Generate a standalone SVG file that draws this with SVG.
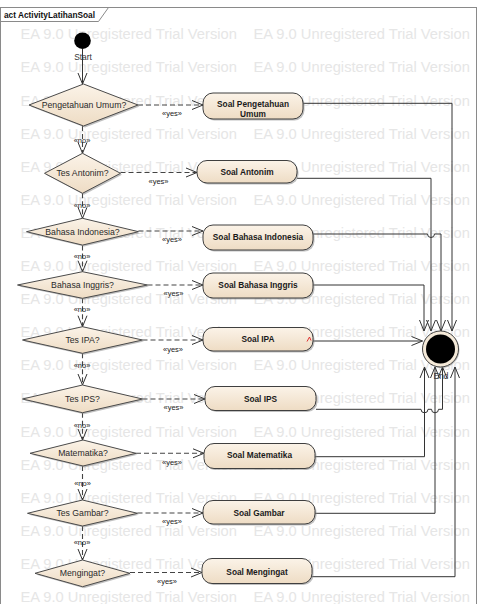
<svg xmlns="http://www.w3.org/2000/svg" width="479" height="604" viewBox="0 0 479 604">
<style>
text{font-family:"Liberation Sans",Arial,sans-serif}
.wm{font-size:14.7px;fill:#e6e6e6}
.frame{fill:#fff;stroke:#8a8a8a;stroke-width:1}
.tab{fill:none;stroke:#8a8a8a;stroke-width:1}
.title{font-size:8.3px;font-weight:bold;fill:#111}
.dec{fill:url(#g);stroke:#4a4a4a;stroke-width:1}
.act{fill:url(#g);stroke:#3f3f3f;stroke-width:1}
.sh{fill:#8c8c8c;opacity:.55}
.dt{font-size:8.7px;fill:#2a2a2a;text-anchor:middle}
.at{font-size:8.3px;font-weight:bold;fill:#1a1a1a;text-anchor:middle}
.lb{font-size:7.5px;fill:#222;text-anchor:middle}
.ctl{fill:none;stroke:#333;stroke-width:1}
.dash{fill:none;stroke:#444;stroke-width:1.1;stroke-dasharray:5,3}
</style>
<defs>
<linearGradient id="g" x1="0" y1="0" x2="0" y2="1">
<stop offset="0" stop-color="#fbf3e8"/>
<stop offset="1" stop-color="#eedcc4"/>
</linearGradient>
<marker id="ar" markerUnits="userSpaceOnUse" markerWidth="13" markerHeight="11" refX="11" refY="4.5" orient="auto" overflow="visible">
<path d="M0,0 L11,4.5 L0,9" fill="none" stroke="#333" stroke-width="1" stroke-dasharray="none"/>
</marker>
</defs>
<rect class="frame" x="0.5" y="7.5" width="476" height="600"/>
<g id="watermark">
<text class="wm" x="20.5" y="39.3">EA 9.0 Unregistered Trial Version</text><text class="wm" x="253.5" y="39.3">EA 9.0 Unregistered Trial Version</text>
<text class="wm" x="20.5" y="72.4">EA 9.0 Unregistered Trial Version</text><text class="wm" x="253.5" y="72.4">EA 9.0 Unregistered Trial Version</text>
<text class="wm" x="20.5" y="105.5">EA 9.0 Unregistered Trial Version</text><text class="wm" x="253.5" y="105.5">EA 9.0 Unregistered Trial Version</text>
<text class="wm" x="20.5" y="138.6">EA 9.0 Unregistered Trial Version</text><text class="wm" x="253.5" y="138.6">EA 9.0 Unregistered Trial Version</text>
<text class="wm" x="20.5" y="171.7">EA 9.0 Unregistered Trial Version</text><text class="wm" x="253.5" y="171.7">EA 9.0 Unregistered Trial Version</text>
<text class="wm" x="20.5" y="204.8">EA 9.0 Unregistered Trial Version</text><text class="wm" x="253.5" y="204.8">EA 9.0 Unregistered Trial Version</text>
<text class="wm" x="20.5" y="237.9">EA 9.0 Unregistered Trial Version</text><text class="wm" x="253.5" y="237.9">EA 9.0 Unregistered Trial Version</text>
<text class="wm" x="20.5" y="271">EA 9.0 Unregistered Trial Version</text><text class="wm" x="253.5" y="271">EA 9.0 Unregistered Trial Version</text>
<text class="wm" x="20.5" y="304.1">EA 9.0 Unregistered Trial Version</text><text class="wm" x="253.5" y="304.1">EA 9.0 Unregistered Trial Version</text>
<text class="wm" x="20.5" y="337.2">EA 9.0 Unregistered Trial Version</text><text class="wm" x="253.5" y="337.2">EA 9.0 Unregistered Trial Version</text>
<text class="wm" x="20.5" y="370.3">EA 9.0 Unregistered Trial Version</text><text class="wm" x="253.5" y="370.3">EA 9.0 Unregistered Trial Version</text>
<text class="wm" x="20.5" y="403.4">EA 9.0 Unregistered Trial Version</text><text class="wm" x="253.5" y="403.4">EA 9.0 Unregistered Trial Version</text>
<text class="wm" x="20.5" y="436.5">EA 9.0 Unregistered Trial Version</text><text class="wm" x="253.5" y="436.5">EA 9.0 Unregistered Trial Version</text>
<text class="wm" x="20.5" y="469.6">EA 9.0 Unregistered Trial Version</text><text class="wm" x="253.5" y="469.6">EA 9.0 Unregistered Trial Version</text>
<text class="wm" x="20.5" y="502.7">EA 9.0 Unregistered Trial Version</text><text class="wm" x="253.5" y="502.7">EA 9.0 Unregistered Trial Version</text>
<text class="wm" x="20.5" y="535.8">EA 9.0 Unregistered Trial Version</text><text class="wm" x="253.5" y="535.8">EA 9.0 Unregistered Trial Version</text>
<text class="wm" x="20.5" y="568.9">EA 9.0 Unregistered Trial Version</text><text class="wm" x="253.5" y="568.9">EA 9.0 Unregistered Trial Version</text>
<text class="wm" x="20.5" y="602">EA 9.0 Unregistered Trial Version</text><text class="wm" x="253.5" y="602">EA 9.0 Unregistered Trial Version</text>
</g>
<g id="frame-tab">
<path class="tab" d="M0.5,21.5 H98.5 L108.5,7.5"/>
<text class="title" x="4" y="18">act ActivityLatihanSoal</text>
</g>
<g id="connectors">
<path class="ctl" d="M82.5,49 V84" marker-end="url(#ar)"/>
<path class="dash" d="M138,105 H203" marker-end="url(#ar)"/>
<path class="dash" d="M120.5,172.5 H197" marker-end="url(#ar)"/>
<path class="dash" d="M138.5,231 H203" marker-end="url(#ar)"/>
<path class="dash" d="M147.5,285 H203" marker-end="url(#ar)"/>
<path class="dash" d="M142.5,340 H203" marker-end="url(#ar)"/>
<path class="dash" d="M142.5,399 H205" marker-end="url(#ar)"/>
<path class="dash" d="M136,453.3 H204" marker-end="url(#ar)"/>
<path class="dash" d="M137.5,513 H203" marker-end="url(#ar)"/>
<path class="dash" d="M130,572.5 H202" marker-end="url(#ar)"/>
<path class="dash" d="M82.5,126 V153.3" marker-end="url(#ar)"/>
<path class="dash" d="M82.5,193.3 V218.3" marker-end="url(#ar)"/>
<path class="dash" d="M82.5,245.5 V271.7" marker-end="url(#ar)"/>
<path class="dash" d="M82.5,298.3 V326.7" marker-end="url(#ar)"/>
<path class="dash" d="M82.5,353.3 V385" marker-end="url(#ar)"/>
<path class="dash" d="M82.5,412.7 V440" marker-end="url(#ar)"/>
<path class="dash" d="M82.5,466 V500" marker-end="url(#ar)"/>
<path class="dash" d="M82.5,526 V560" marker-end="url(#ar)"/>
<path class="ctl" d="M303,103.3 H452 V331" marker-end="url(#ar)"/>
<path class="ctl" d="M297,178.3 H431 V331" marker-end="url(#ar)"/>
<path class="ctl" d="M313,234 H427.5 A3.5,3.5 0 0 0 434.5,234 H441 V331" marker-end="url(#ar)"/>
<path class="ctl" d="M313,285 H424 V331" marker-end="url(#ar)"/>
<path class="ctl" d="M313,341 H422.5" marker-end="url(#ar)"/>
<path class="ctl" d="M316,409.3 H421 A3.5,3.5 0 0 0 428,409.3 H431.5 A3.5,3.5 0 0 0 438.5,409.3 H442.5 V367" marker-end="url(#ar)"/>
<path class="ctl" d="M315,456.7 H424.5 V367" marker-end="url(#ar)"/>
<path class="ctl" d="M315,513.3 H435 V367" marker-end="url(#ar)"/>
<path class="ctl" d="M312,576.7 H455 V367" marker-end="url(#ar)"/>
<text class="lb" x="172" y="116">«yes»</text>
<text class="lb" x="158.5" y="184">«yes»</text>
<text class="lb" x="172" y="241.5">«yes»</text>
<text class="lb" x="173.5" y="295.5">«yes»</text>
<text class="lb" x="173" y="351.5">«yes»</text>
<text class="lb" x="173.5" y="409.5">«yes»</text>
<text class="lb" x="172" y="464.5">«yes»</text>
<text class="lb" x="172" y="524">«yes»</text>
<text class="lb" x="167" y="584">«yes»</text>
<text class="lb" x="82" y="142.5">«no»</text>
<text class="lb" x="82" y="207.5">«no»</text>
<text class="lb" x="82" y="258.5">«no»</text>
<text class="lb" x="82" y="311.5">«no»</text>
<text class="lb" x="82" y="368">«no»</text>
<text class="lb" x="82" y="427.5">«no»</text>
<text class="lb" x="82.5" y="485.5">«no»</text>
<text class="lb" x="82" y="545">«no»</text>
</g>
<g id="start">
<circle cx="82.5" cy="40.7" r="8.3" fill="#000"/>
<text x="83" y="60" font-size="8.4" fill="#333" text-anchor="middle">Start</text>
</g>
<g id="d-pengetahuan">
<path class="sh" d="M30.5,106.5 L85,85.5 L139.5,106.5 L85,127.5 Z"/>
<path class="dec" d="M29,105 L83.5,84 L138,105 L83.5,126 Z"/>
<text class="dt" x="84" y="108">Pengetahuan Umum?</text>
</g>
<g id="d-antonim">
<path class="sh" d="M46,174.8 L84,154.8 L122,174.8 L84,194.8 Z"/>
<path class="dec" d="M44.5,173.3 L82.5,153.3 L120.5,173.3 L82.5,193.3 Z"/>
<text class="dt" x="82.5" y="176.3">Tes Antonim?</text>
</g>
<g id="d-indonesia">
<path class="sh" d="M28,233.2 L84,219.8 L140,233.2 L84,246.6 Z"/>
<path class="dec" d="M26.5,231.7 L82.5,218.3 L138.5,231.7 L82.5,245.1 Z"/>
<text class="dt" x="82.5" y="234.7">Bahasa Indonesia?</text>
</g>
<g id="d-inggris">
<path class="sh" d="M19,286.5 L84,273.2 L149,286.5 L84,299.8 Z"/>
<path class="dec" d="M17.5,285 L82.5,271.7 L147.5,285 L82.5,298.3 Z"/>
<text class="dt" x="82.5" y="288">Bahasa Inggris?</text>
</g>
<g id="d-ipa">
<path class="sh" d="M24,341.5 L84,328.2 L144,341.5 L84,354.8 Z"/>
<path class="dec" d="M22.5,340 L82.5,326.7 L142.5,340 L82.5,353.3 Z"/>
<text class="dt" x="82.5" y="343">Tes IPA?</text>
</g>
<g id="d-ips">
<path class="sh" d="M24,400.5 L84,386.5 L144,400.5 L84,414.2 Z"/>
<path class="dec" d="M22.5,399 L82.5,385 L142.5,399 L82.5,412.7 Z"/>
<text class="dt" x="82.5" y="402">Tes IPS?</text>
</g>
<g id="d-matematika">
<path class="sh" d="M31.5,454.8 L84.5,441.5 L137.5,454.8 L84.5,467.5 Z"/>
<path class="dec" d="M30,453.3 L83,440 L136,453.3 L83,466 Z"/>
<text class="dt" x="83" y="456.3">Matematika?</text>
</g>
<g id="d-gambar">
<path class="sh" d="M29,514.8 L84,501.5 L139,514.8 L84,527.5 Z"/>
<path class="dec" d="M27.5,513.3 L82.5,500 L137.5,513.3 L82.5,526 Z"/>
<text class="dt" x="82.5" y="516.3">Tes Gambar?</text>
</g>
<g id="d-mengingat">
<path class="sh" d="M36.5,574.8 L84,561.5 L131.5,574.8 L84,588.2 Z"/>
<path class="dec" d="M35,573.3 L82.5,560 L130,573.3 L82.5,586.7 Z"/>
<text class="dt" x="82.5" y="576.3">Mengingat?</text>
</g>
<g id="a-pengetahuan">
<rect class="sh" x="204.5" y="94.5" width="100" height="26" rx="10"/>
<rect class="act" x="203" y="93" width="100" height="26" rx="10"/>
<text class="at" x="253" y="107.3">Soal Pengetahuan</text>
<text class="at" x="253" y="116.5">Umum</text>
</g>
<g id="a-antonim">
<rect class="sh" x="198.5" y="162" width="100" height="22.5" rx="10"/>
<rect class="act" x="197" y="160.5" width="100" height="22.5" rx="10"/>
<text class="at" x="247" y="174.8">Soal Antonim</text>
</g>
<g id="a-indonesia">
<rect class="sh" x="204.5" y="226.5" width="110" height="25" rx="10"/>
<rect class="act" x="203" y="225" width="110" height="25" rx="10"/>
<text class="at" x="258" y="240">Soal Bahasa Indonesia</text>
</g>
<g id="a-inggris">
<rect class="sh" x="204.5" y="274.5" width="110" height="25" rx="10"/>
<rect class="act" x="203" y="273" width="110" height="25" rx="10"/>
<text class="at" x="258" y="288">Soal Bahasa Inggris</text>
</g>
<g id="a-ipa">
<rect class="sh" x="204.5" y="329" width="110" height="23.5" rx="10"/>
<rect class="act" x="203" y="327.5" width="110" height="23.5" rx="10"/>
<text class="at" x="258" y="342.3">Soal IPA</text>
<path d="M307,341.5 L309.5,337 L311,340.5" fill="none" stroke="#e03030" stroke-width="1"/>
</g>
<g id="a-ips">
<rect class="sh" x="206.5" y="388" width="111" height="24" rx="10"/>
<rect class="act" x="205" y="386.5" width="111" height="24" rx="10"/>
<text class="at" x="260.5" y="401.8">Soal IPS</text>
</g>
<g id="a-matematika">
<rect class="sh" x="205.5" y="445" width="111" height="25" rx="10"/>
<rect class="act" x="204" y="443.5" width="111" height="25" rx="10"/>
<text class="at" x="259.5" y="458">Soal Matematika</text>
</g>
<g id="a-gambar">
<rect class="sh" x="204.5" y="502" width="112" height="23.5" rx="10"/>
<rect class="act" x="203" y="500.5" width="112" height="23.5" rx="10"/>
<text class="at" x="259" y="515.8">Soal Gambar</text>
</g>
<g id="a-mengingat">
<rect class="sh" x="203.5" y="560" width="110" height="25" rx="10"/>
<rect class="act" x="202" y="558.5" width="110" height="25" rx="10"/>
<text class="at" x="257" y="574.5">Soal Mengingat</text>
</g>
<g id="end">
<circle cx="441.5" cy="350" r="18" class="sh"/>
<circle cx="440.5" cy="349" r="18" fill="#f5ead9" stroke="#444" stroke-width="1"/>
<circle cx="440.5" cy="349" r="14.5" fill="#000"/>
<text x="441" y="379" font-size="8.4" fill="#333" text-anchor="middle">End</text>
</g>
</svg>
